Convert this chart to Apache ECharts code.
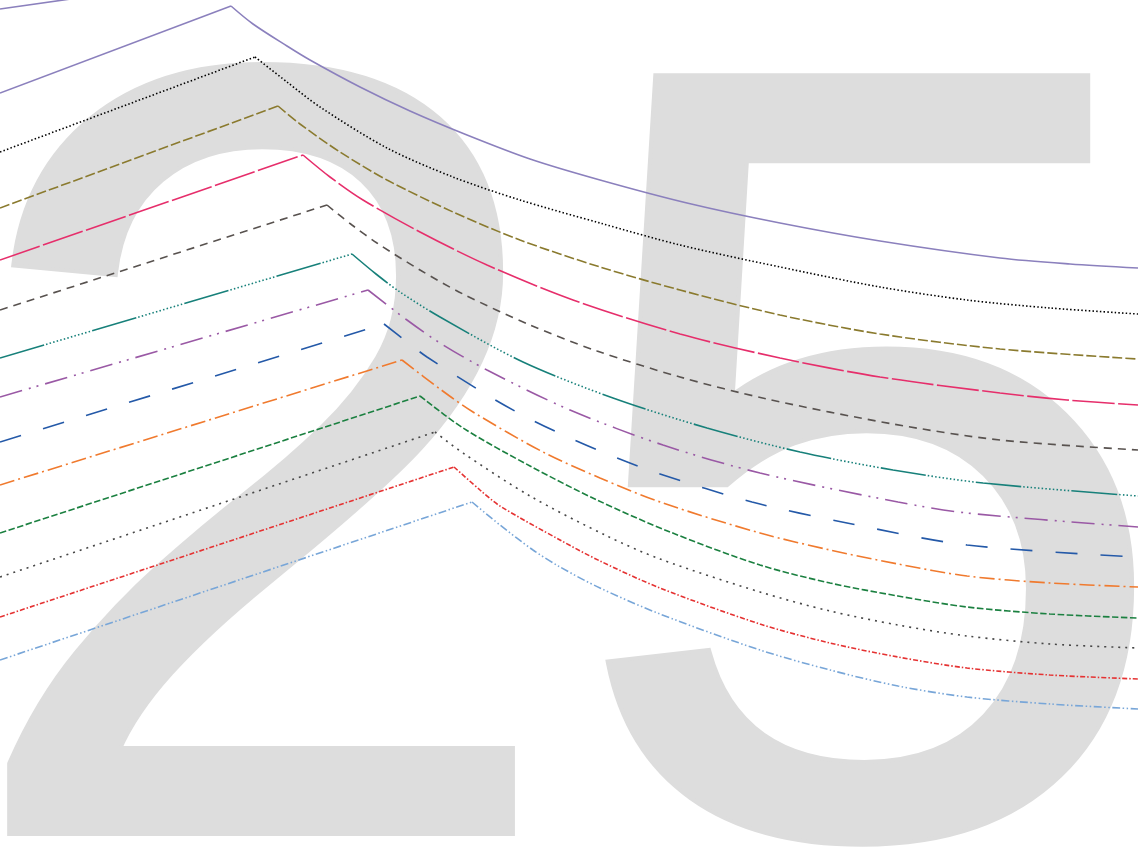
<!DOCTYPE html>
<html>
<head>
<meta charset="utf-8">
<script src="https://cdn.jsdelivr.net/npm/echarts@6/dist/echarts.min.js"></script>
<style>
html,body{margin:0;padding:0;background:#fff;}
#chart{width:1138px;height:855px;}
</style>
</head>
<body>
<div id="chart"></div>
<script>
// Watermark text
const watermark = '25';

// Series values: [x, y] (y measured downward from top of plot)
const s0  = [[0,9],[120,-8],[200,-20]];
const s1  = [[0,93],[231,6],[253,24],[287,46],[310,60],[360,87],[410,111],[467,135],[530,159],[600,180],[687,203],[780,223],[880,241],[1000,258],[1070,264],[1138,268]];
const s2  = [[0,152],[255,57],[287,82],[320,107],[387,148],[453,177],[520,200],[600,223],[680,245],[780,267],[880,287],[967,300],[1050,308],[1138,314]];
const s3  = [[0,208],[278,106],[300,124],[340,152],[387,180],[453,212],[520,240],[600,267],[680,290],[780,315],[880,334],[1000,349],[1138,359]];
const s4  = [[0,260],[303,155],[330,177],[363,200],[420,232],[487,265],[573,300],[680,334],[780,358],[880,377],[1000,393],[1067,400],[1138,405]];
const s5  = [[0,310],[327,205],[352,225],[377,243],[420,270],[463,294],[530,325],[597,351],[680,377],[767,399],[893,424],[1000,440],[1138,450]];
const s6  = [[0,358],[352,254],[376,274],[400,292],[440,317],[523,362],[613,398],[707,428],[800,452],[893,470],[983,483],[1138,496]];
const s7  = [[0,397],[368,290],[407,320],[440,343],[487,370],[570,410],[663,445],[760,473],[898,502],[967,513],[1138,527]];
const s8  = [[0,442],[384,324],[407,342],[427,357],[487,395],[528,418],[572,439],[617,458],[660,474],[752,502],[847,523],[967,545],[1138,557]];
const s9  = [[0,485],[402,360],[440,389],[473,412],[543,452],[600,478],[663,503],[760,533],[830,550],[898,564],[967,576],[1050,583],[1138,587]];
const s10 = [[0,533],[420,396],[463,428],[530,466],[597,500],[670,532],[760,565],[830,583],[898,596],[967,607],[1050,614],[1138,618]];
const s11 = [[0,577],[435,432],[463,453],[530,496],[607,536],[660,559],[760,592],[830,611],[898,625],[967,636],[1050,644],[1138,648]];
const s12 = [[0,617],[454,467],[480,490],[500,506],[560,540],[600,561],[660,588],[760,624],[830,643],[898,657],[967,668],[1050,675],[1138,679]];
const s13 = [[0,660],[472,502],[500,525],[533,550],[560,567],[600,588],[660,614],[760,650],[830,670],[898,686],[967,697],[1050,704],[1138,709]];

const seriesData = [s0,s1,s2,s3,s4,s5,s6,s7,s8,s9,s10,s11,s12,s13];

const colors = ['#8b80bd','#8b80bd','#000000','#8a7a2e','#e62e6b','#58524f','#17807a','#9a59a5','#2459a8','#f07a2e','#1b8040','#474747','#e53232','#78a6d8'];

function repeatDots(n, on, off){ const a=[]; for(let i=0;i<n;i++){a.push(on,off);} return a; }
const dashes = [
  'solid',
  'solid',
  [1.5,2.2],
  [10,3],
  [42,3.5],
  [8,6],
  [46,2].concat(repeatDots(13,1.5,2.2)),
  [23,7,2,6,2,7],
  [22,23],
  [15,4,2,4],
  [6.5,2.5],
  [2,5],
  [5,2,1.5,2],
  [8,2.5,1.5,2.5,1.5,2.5]
];

const series = [];
seriesData.forEach((d,i)=>{
  const ls = {color:colors[i],width:1.6,type:dashes[i],cap:'butt'};
  // rising straight part
  series.push({type:'line',data:d.slice(0,2),showSymbol:false,symbol:'none',clip:true,z:2,lineStyle:ls});
  // decaying curved part
  series.push({type:'line',data:d.slice(1),showSymbol:false,symbol:'none',clip:true,z:2,smooth:0.3,lineStyle:ls});
});

const chart = echarts.init(document.getElementById('chart'), null, {renderer:'canvas'});
chart.setOption({
  backgroundColor:'#ffffff',
  animation:false,
  grid:{left:0,right:0,top:0,bottom:0,containLabel:false},
  xAxis:{type:'value',min:0,max:1138,show:false},
  yAxis:{type:'value',min:0,max:855,inverse:true,show:false},
  graphic:{elements:[{
    type:'text',
    x:-44,
    y:1078,
    z:0,
    silent:true,
    style:{
      text:watermark,
      fill:'#dddddd',
      stroke:'#dddddd',
      lineWidth:8,
      fontSize:1097,
      fontFamily:'Liberation Sans',
      verticalAlign:'bottom',
      align:'left'
    }
  }]},
  series: series
});
</script>
</body>
</html>
